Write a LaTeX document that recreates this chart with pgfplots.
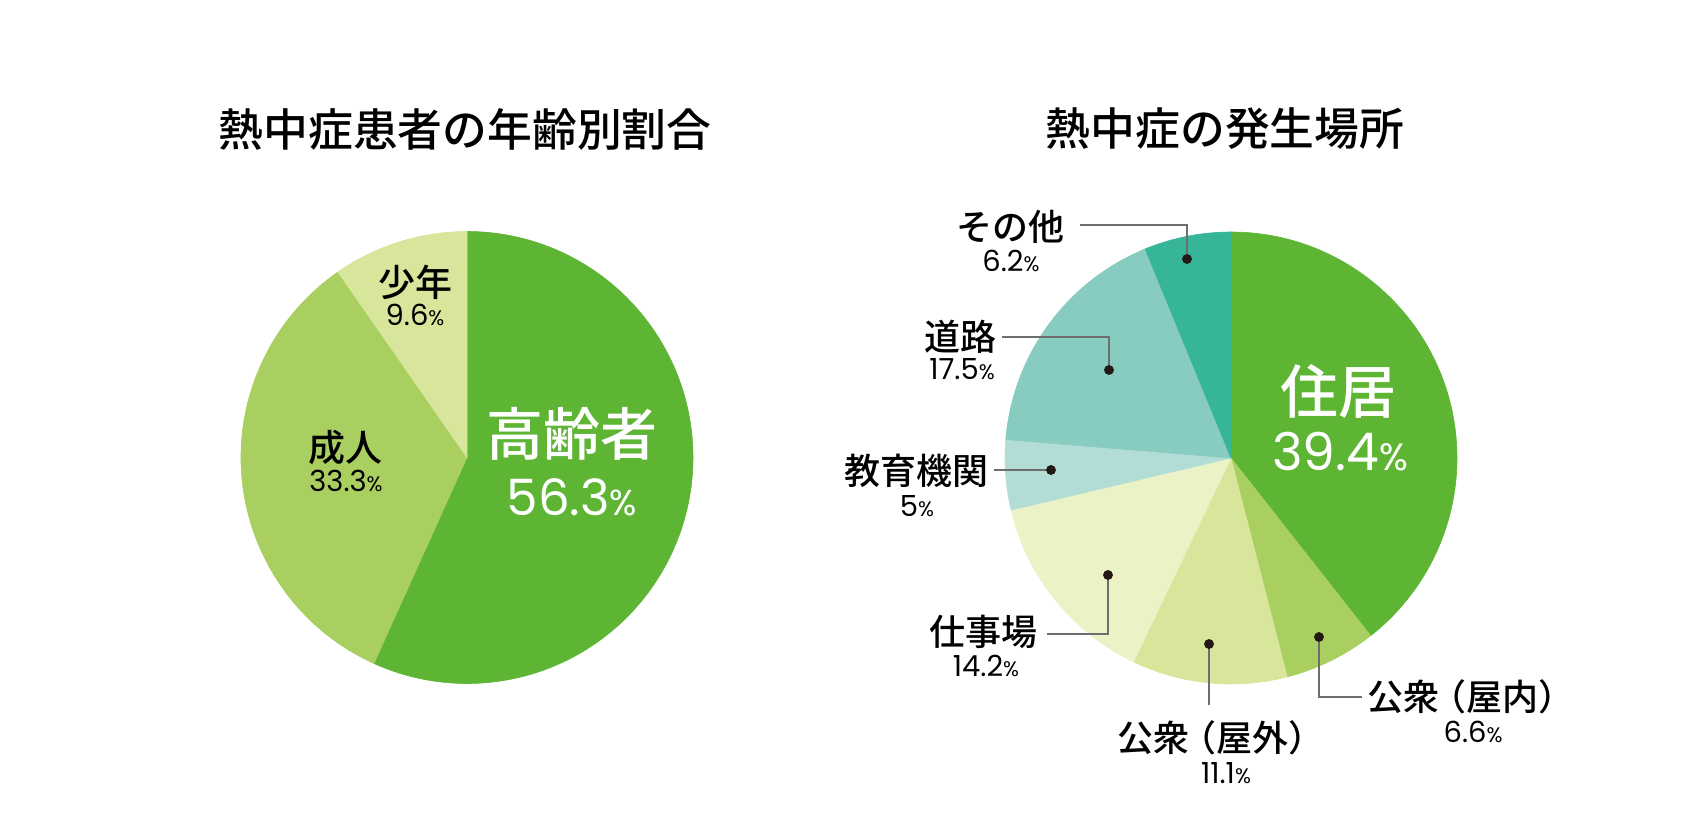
\documentclass[border=0pt]{standalone}
\usepackage{pgfplots}
\pgfplotsset{compat=1.18}
\usepackage{pgfplotstable}
\usepackage{fontspec}
\setmainfont{Noto Sans CJK JP}
\newfontfamily\jpm{Noto Sans CJK JP Medium}
\newfontfamily\numf{Poppins}
\definecolor{gA}{HTML}{5DB533}
\definecolor{gB}{HTML}{A9CF61}
\definecolor{gC}{HTML}{D8E69B}
\definecolor{gD}{HTML}{EBF2C6}
\definecolor{tA}{HTML}{B2DDD6}
\definecolor{tB}{HTML}{88CBC0}
\definecolor{tC}{HTML}{37B598}
\definecolor{dotc}{HTML}{231815}
\definecolor{linec}{HTML}{6F6E6E}

% age groups, clockwise from 12 o'clock
\pgfplotstableread{
value color
56.3 gA
33.3 gB
9.6  gC
}\agetable
% places, clockwise from 12 o'clock
\pgfplotstableread{
value color
39.4 gA
6.6  gB
11.1 gC
14.2 gD
5.0  tA
17.5 tB
6.2  tC
}\placetable

% #1 table, #2 cx, #3 cy, #4 radius (axis units), #5 output macro
\newcommand\buildpie[5]{%
  \gdef#5{}%
  \pgfplotstablegetrowsof{#1}\pgfmathtruncatemacro\pieNr{\pgfplotsretval-1}%
  \gdef\pieTot{0}%
  \pgfplotsforeachungrouped \pieI in {0,...,\pieNr}{%
    \pgfplotstablegetelem{\pieI}{value}\of{#1}%
    \pgfmathsetmacro\pieTmp{\pieTot+\pgfplotsretval}\xdef\pieTot{\pieTmp}}%
  \gdef\pieAcc{0}%
  \pgfmathsetmacro\pieR{#4*0.5}%
  \pgfplotsforeachungrouped \pieI in {0,...,\pieNr}{%
    \pgfplotstablegetelem{\pieI}{value}\of{#1}\let\pieVal\pgfplotsretval
    \pgfplotstablegetelem{\pieI}{color}\of{#1}\let\pieCol\pgfplotsretval
    \pgfmathsetmacro\pieS{90-\pieAcc/\pieTot*360}%
    \pgfmathsetmacro\pieE{90-(\pieAcc+\pieVal)/\pieTot*360}%
    \pgfmathsetmacro\pieX{#2+#4*cos(\pieS)}%
    \pgfmathsetmacro\pieY{#3+#4*sin(\pieS)}%
    \xdef#5{#5\noexpand\fill[fill=\pieCol, draw=\pieCol, line width=0.3pt] (axis cs:#2,#3) -- (axis cs:\pieX,\pieY)
      arc[start angle=\pieS, end angle=\pieE, radius=\pieR pt] -- cycle;}%
    \pgfmathsetmacro\pieTmp{\pieAcc+\pieVal}\xdef\pieAcc{\pieTmp}}%
}
\buildpie{\agetable}{467}{363.5}{226}{\pieAge}
\buildpie{\placetable}{1231}{363}{226}{\piePlace}

\newcommand\pc[3]{{\numf\fontsize{#1}{#1}\selectfont #3\fontsize{#2}{#2}\selectfont\%}}
\newcommand\lb[2]{{\jpm\fontsize{#1}{#1}\selectfont #2}}

\begin{document}
\begin{tikzpicture}
\begin{axis}[scale only axis, width=851.5pt, height=410.5pt,
  xmin=0, xmax=1703, ymin=0, ymax=821, hide axis, clip=false]
\pieAge
\piePlace
% leader lines
\addplot[linec, line width=0.6pt] coordinates {(1080,596) (1187,596) (1187,562)};
\addplot[linec, line width=0.6pt] coordinates {(1002,484) (1109,484) (1109,451)};
\addplot[linec, line width=0.6pt] coordinates {(994,351) (1051,351)};
\addplot[linec, line width=0.6pt] coordinates {(1047,187) (1108,187) (1108,246)};
\addplot[linec, line width=0.6pt] coordinates {(1209,116) (1209,177)};
\addplot[linec, line width=0.6pt] coordinates {(1362,124) (1319,124) (1319,184)};
\addplot[only marks, mark=*, mark size=2.25pt, dotc] coordinates {
  (1187,562) (1109,451) (1051,351) (1108,246) (1209,177) (1319,184)};
% titles
\node[inner sep=0] at (axis cs:465,692) {\lb{22.4pt}{熱中症患者の年齢別割合}};
\node[inner sep=0] at (axis cs:1225,692) {\lb{22.4pt}{熱中症の発生場所}};
% left pie labels
\node[inner sep=0, white] at (axis cs:572,387) {\lb{28.5pt}{高齢者}};
\node[inner sep=0, white] at (axis cs:572,324) {\pc{25pt}{18pt}{56.3}};
\node[inner sep=0] at (axis cs:415,539) {\lb{18.5pt}{少年}};
\node[inner sep=0] at (axis cs:415,506) {\pc{14.5pt}{10.5pt}{9.6}};
\node[inner sep=0] at (axis cs:345,373) {\lb{18.5pt}{成人}};
\node[inner sep=0] at (axis cs:346,340) {\pc{14.5pt}{10.5pt}{33.3}};
% right pie labels
\node[inner sep=0, white] at (axis cs:1338,430) {\lb{29pt}{住居}};
\node[inner sep=0, white] at (axis cs:1340,369) {\pc{26pt}{19pt}{39.4}};
\node[inner sep=0] at (axis cs:1466,124) {\lb{18pt}{公衆\kern-.25em（屋内）\kern-.25em}};
\node[inner sep=0] at (axis cs:1473,89) {\pc{14.5pt}{10.5pt}{6.6}};
\node[inner sep=0] at (axis cs:1216,83) {\lb{18pt}{公衆\kern-.25em（屋外）\kern-.25em}};
\node[inner sep=0] at (axis cs:1226,48) {\pc{14.5pt}{10.5pt}{11.1}};
\node[inner sep=0] at (axis cs:983,189) {\lb{18pt}{仕事場}};
\node[inner sep=0] at (axis cs:986,155) {\pc{14.5pt}{10.5pt}{14.2}};
\node[inner sep=0] at (axis cs:916,350) {\lb{18pt}{教育機関}};
\node[inner sep=0] at (axis cs:917,315) {\pc{14.5pt}{10.5pt}{5}};
\node[inner sep=0] at (axis cs:960,484) {\lb{18pt}{道路}};
\node[inner sep=0] at (axis cs:962,452) {\pc{14.5pt}{10.5pt}{17.5}};
\node[inner sep=0] at (axis cs:1010,594) {\lb{18pt}{その他}};
\node[inner sep=0] at (axis cs:1011,560) {\pc{14.5pt}{10.5pt}{6.2}};
\end{axis}
\pgfresetboundingbox
\path (current axis.south west) rectangle (current axis.north east);
\end{tikzpicture}
\end{document}
